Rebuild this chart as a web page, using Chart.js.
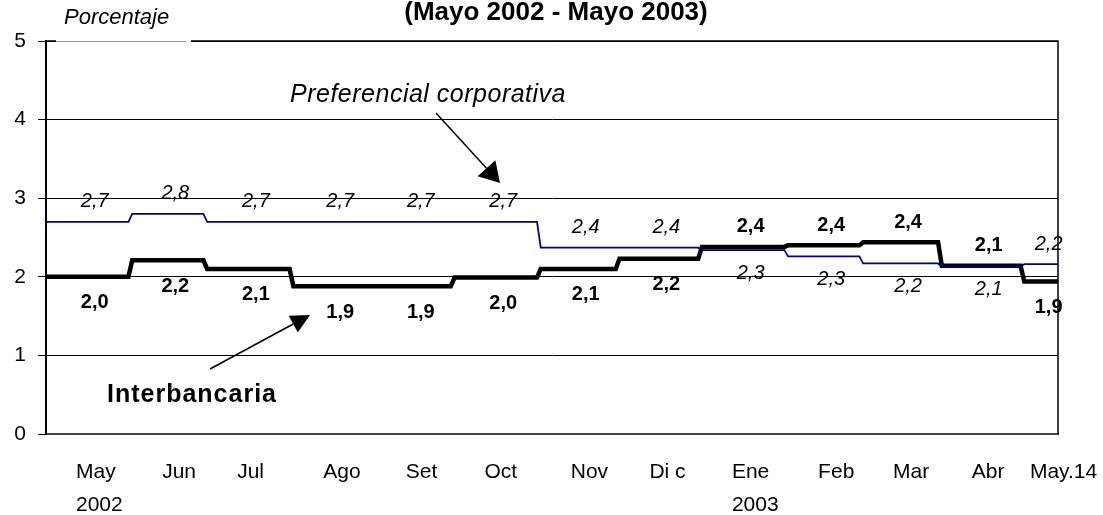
<!DOCTYPE html>
<html>
<head>
<meta charset="utf-8">
<script src="https://cdn.jsdelivr.net/npm/chart.js@4"></script>
<style>
  html, body { margin: 0; padding: 0; background: #fff; }
</style>
</head>
<body>
<canvas id="tasas" width="1103" height="515"></canvas>
<script>
// tasas promedio por mes, eje x en dias habiles (may 2002 - 14 may 2003)
var meses = ['May', 'Jun', 'Jul', 'Ago', 'Set', 'Oct', 'Nov', 'Dic', 'Ene', 'Feb', 'Mar', 'Abr', 'May.14'];
var etiquetasEje = [['May', '2002'], 'Jun', 'Jul', 'Ago', 'Set', 'Oct', 'Nov', 'Di c', ['Ene', '2003'], 'Feb', 'Mar', 'Abr', 'May.14'];
var diasHabiles = [23, 20, 23, 22, 21, 23, 21, 22, 23, 20, 21, 22, 10];

var interbancaria = [2.00, 2.21, 2.10, 1.88, 1.88, 1.99, 2.10, 2.23, 2.38, 2.40, 2.44, 2.14, 1.94];
var preferencial = [2.70, 2.80, 2.70, 2.70, 2.70, 2.70, 2.37, 2.37, 2.34, 2.26, 2.17, 2.13, 2.16];

var yTicks = [0, 1, 2, 3, 4, 5];

// dia de inicio de cada mes
var inicio = [];
diasHabiles.reduce(function (acc, d) { inicio.push(acc); return acc + d; }, 0);
var ultimoDia = inicio[inicio.length - 1] + diasHabiles[diasHabiles.length - 1] - 1;

function serieDiaria(valores) {
    var pts = [];
    valores.forEach(function (v, i) {
        pts.push({ x: inicio[i], y: v });
        pts.push({ x: inicio[i] + diasHabiles[i] - 1, y: v });
    });
    return pts;
}

var FONT = '"Liberation Sans", Arial, sans-serif';

function coma(v) { return v.toFixed(1).replace('.', ','); }

var anotaciones = {
    id: 'anotaciones',
    afterDatasetsDraw: function (chart) {
        var c = chart.ctx, xs = chart.scales.x, ys = chart.scales.y;
        c.save();
        c.textAlign = 'center';
        c.textBaseline = 'middle';
        c.fillStyle = '#000';
        meses.forEach(function (m, i) {
            var px = xs.getPixelForValue(inicio[i] + diasHabiles[i] / 2 + 1.5);
            var a = preferencial[i], b = interbancaria[i];
            c.font = 'italic 20px ' + FONT;
            c.fillText(coma(a), px, ys.getPixelForValue(a) + (a >= b ? -20 : 23));
            c.font = 'bold 20px ' + FONT;
            c.fillText(coma(b), px, ys.getPixelForValue(b) + (b > a ? -20 : 26));
        });
        c.restore();
    },
    afterDraw: function (chart) {
        var c = chart.ctx, area = chart.chartArea;
        c.save();
        // marco superior y derecho
        c.strokeStyle = '#000';
        c.lineWidth = 1.5;
        c.beginPath();
        c.moveTo(area.left, area.top);
        c.lineTo(area.right, area.top);
        c.lineTo(area.right, area.bottom);
        c.stroke();
        // recuadro de "Porcentaje"
        c.fillStyle = '#fff';
        c.fillRect(area.left + 10, area.top - 3, 135, 6);
        c.strokeStyle = '#999';
        c.lineWidth = 1;
        c.beginPath();
        c.moveTo(area.left + 10, area.top + 0.5);
        c.lineTo(area.left + 140, area.top + 0.5);
        c.stroke();

        c.fillStyle = '#000';
        c.textBaseline = 'alphabetic';
        c.textAlign = 'left';
        c.font = 'italic 22px ' + FONT;
        c.fillText('Porcentaje', 64, 24);
        c.textAlign = 'center';
        c.font = 'bold 26px ' + FONT;
        c.fillText('(Mayo 2002 - Mayo 2003)', 556, 20);

        c.textAlign = 'left';
        c.letterSpacing = '0.5px';
        c.font = 'italic 25px ' + FONT;
        c.fillText('Preferencial corporativa', 290, 102);
        c.letterSpacing = '1px';
        c.font = 'bold 25px ' + FONT;
        c.fillText('Interbancaria', 107, 402);
        c.letterSpacing = '0px';

        flecha(c, 436, 113, 500, 183, 20, 12);
        flecha(c, 210, 369, 310, 315, 19, 9.5);
        c.restore();
    }
};

function flecha(c, x1, y1, x2, y2, L, W) {
    var ang = Math.atan2(y2 - y1, x2 - x1);
    var bx = x2 - L * Math.cos(ang), by = y2 - L * Math.sin(ang);
    c.strokeStyle = '#000';
    c.fillStyle = '#000';
    c.lineWidth = 1.5;
    c.beginPath();
    c.moveTo(x1, y1);
    c.lineTo(bx, by);
    c.stroke();
    c.beginPath();
    c.moveTo(x2, y2);
    c.lineTo(bx + W * Math.sin(ang), by - W * Math.cos(ang));
    c.lineTo(bx - W * Math.sin(ang), by + W * Math.cos(ang));
    c.closePath();
    c.fill();
}

document.addEventListener('DOMContentLoaded', function () {
    var ctx = document.getElementById('tasas').getContext('2d');
    new Chart(ctx, {
        type: 'line',
        data: {
            datasets: [{
                label: 'Preferencial corporativa',
                data: serieDiaria(preferencial),
                borderColor: '#000080',
                borderWidth: 1.8,
                pointRadius: 0,
                tension: 0,
                fill: false
            }, {
                label: 'Interbancaria',
                data: serieDiaria(interbancaria),
                borderColor: '#000',
                borderWidth: 4.5,
                pointRadius: 0,
                tension: 0,
                fill: false
            }]
        },
        options: {
            responsive: false,
            animation: false,
            layout: { padding: { top: 41, right: 45, left: 0, bottom: 0 } },
            plugins: { legend: { display: false }, tooltip: { enabled: false }, title: { display: false } },
            scales: {
                x: {
                    type: 'linear',
                    min: 0,
                    max: ultimoDia,
                    afterBuildTicks: function (axis) {
                        axis.ticks = inicio.map(function (d, i) {
                            return { value: d + Math.min(8, diasHabiles[i] - 8.5) };
                        });
                    },
                    afterFit: function (axis) {
                        axis.height = 81;
                        axis.paddingLeft = 0;
                        axis.paddingRight = 0;
                    },
                    grid: { display: false, drawTicks: false },
                    border: { color: '#444', width: 2 },
                    ticks: {
                        autoSkip: false,
                        maxRotation: 0,
                        align: 'start',
                        padding: 22,
                        color: '#000',
                        font: { family: FONT, size: 21, lineHeight: 1.55 },
                        callback: function (v, i) { return etiquetasEje[i]; }
                    }
                },
                y: {
                    min: 0,
                    max: 5,
                    afterBuildTicks: function (axis) {
                        axis.ticks = yTicks.map(function (v) { return { value: v }; });
                    },
                    afterFit: function (axis) { axis.width = 46; },
                    grid: { color: '#000', lineWidth: 1, tickLength: 8 },
                    border: { color: '#000', width: 2 },
                    ticks: {
                        padding: 12,
                        color: '#000',
                        font: { family: FONT, size: 21 }
                    }
                }
            }
        },
        plugins: [anotaciones]
    });
});
</script>
</body>
</html>
